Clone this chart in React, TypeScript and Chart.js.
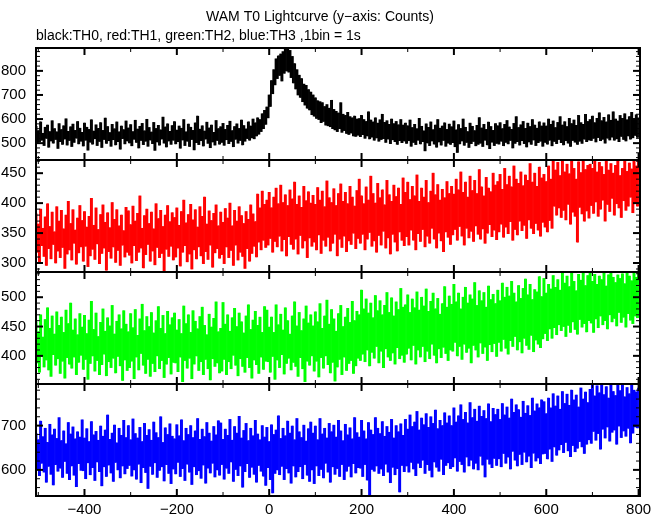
import React, { useEffect, useRef } from 'react';
import { Chart, registerables } from 'chart.js';

Chart.register(...registerables);

// time bins (seconds from T0), one value every BIN_STEP seconds
const START_TIME = -505;
const BIN_STEP = 2.5;

const TITLE = 'WAM T0 Lightcurve (y\u2212axis: Counts)';
const SUBTITLE = 'black:TH0, red:TH1, green:TH2, blue:TH3 ,1bin = 1s';

const th0Counts = [
  570, 498, 552, 505, 588, 512, 541, 490, 566, 520, 575, 483, 548, 509, 593, 500, 560, 515, 547, 478,
  581, 506, 556, 495, 572, 517, 601, 492, 549, 511, 568, 486, 579, 503, 553, 521, 590, 497, 562, 508,
  545, 488, 583, 512, 566, 471, 557, 504, 597, 496, 550, 518, 576, 490, 561, 507, 585, 482, 553, 515,
  604, 499, 569, 510, 544, 487, 578, 514, 559, 493, 588, 506, 547, 475, 571, 519, 556, 497, 592, 509,
  563, 501, 577, 489, 548, 516, 595, 503, 558, 480, 570, 511, 582, 494, 551, 508, 599, 487, 565, 513,
  546, 498, 586, 470, 561, 505, 574, 492, 555, 517, 608, 500, 567, 484, 580, 509, 549, 495, 573, 512,
  589, 497, 554, 506, 571, 479, 562, 513, 598, 490, 547, 508, 579, 486, 566, 515, 553, 472, 584, 502,
  612, 494, 558, 510, 572, 488, 550, 517, 587, 499, 563, 481, 575, 505, 545, 492, 594, 511, 560, 496,
  568, 503, 582, 491, 557, 514, 574, 498, 591, 507, 552, 485, 569, 516, 580, 500, 561, 511, 596, 493,
  573, 508, 559, 519, 588, 512, 571, 522, 600, 518, 584, 530, 605, 537, 598, 548, 622, 560, 636, 578,
  650, 605, 700, 652, 760, 705, 805, 742, 850, 768, 862, 781, 870, 758, 880, 790, 895, 800, 890, 795,
  885, 772, 860, 750, 830, 725, 805, 700, 782, 690, 768, 672, 745, 658, 740, 645, 722, 638, 712, 618,
  700, 612, 688, 603, 676, 598, 672, 585, 668, 590, 652, 575, 660, 572, 645, 568, 678, 560, 640, 555,
  632, 548, 625, 560, 668, 545, 620, 552, 615, 540, 628, 536, 610, 542, 605, 530, 612, 528, 600, 533,
  602, 527, 615, 535, 598, 520, 590, 530, 630, 518, 596, 525, 588, 512, 605, 522, 583, 508, 597, 515,
  620, 519, 586, 503, 593, 517, 578, 498, 600, 514, 581, 506, 590, 495, 576, 510, 598, 502, 575, 509,
  583, 499, 572, 510, 596, 487, 565, 503, 578, 494, 560, 512, 603, 497, 570, 506, 551, 468, 580, 501,
  566, 490, 588, 509, 556, 496, 575, 483, 598, 505, 562, 492, 571, 511, 584, 487, 557, 500, 579, 495,
  568, 502, 592, 485, 555, 461, 577, 497, 561, 509, 600, 491, 566, 503, 548, 482, 583, 498, 570, 507,
  552, 489, 574, 495, 606, 500, 563, 486, 578, 512, 557, 493, 587, 477, 569, 504, 553, 490, 581, 499,
  572, 496, 585, 508, 560, 489, 578, 503, 594, 497, 567, 511, 557, 480, 582, 499, 610, 506, 565, 492,
  576, 510, 590, 498, 561, 484, 583, 505, 569, 495, 598, 513, 575, 490, 562, 502, 588, 508, 571, 487,
  584, 503, 571, 496, 600, 512, 578, 489, 592, 507, 565, 498, 586, 515, 610, 502, 575, 493, 589, 510,
  569, 500, 603, 486, 581, 511, 596, 504, 574, 495, 615, 508, 585, 499, 578, 517, 620, 506, 590, 513,
  598, 511, 612, 520, 585, 505, 603, 523, 626, 510, 593, 516, 607, 500, 588, 521, 618, 513, 595, 525,
  630, 512, 600, 518, 592, 506, 615, 528, 603, 515, 622, 509, 597, 530, 610, 517, 628, 522, 600, 532,
  618, 524, 605,
];

const th1Counts = [
  382, 318, 365, 302, 390, 329, 358, 311, 377, 296, 399, 324, 361, 307, 385, 331, 352, 300, 394, 320,
  370, 309, 388, 326, 357, 291, 380, 315, 403, 322, 366, 305, 389, 333, 355, 298, 375, 317, 396, 327,
  371, 303, 386, 328, 360, 294, 378, 312, 408, 323, 363, 306, 392, 332, 356, 299, 381, 316, 397, 325,
  368, 288, 384, 319, 359, 308, 401, 327, 373, 301, 389, 321, 362, 296, 380, 330, 354, 310, 393, 318,
  387, 313, 364, 300, 395, 329, 370, 304, 383, 318, 412, 325, 358, 292, 379, 314, 390, 331, 366, 303,
  385, 320, 357, 297, 399, 326, 374, 309, 388, 316, 361, 287, 380, 323, 396, 311, 369, 328, 384, 305,
  376, 310, 392, 325, 363, 295, 386, 318, 405, 329, 367, 302, 381, 315, 398, 290, 372, 322, 389, 307,
  360, 327, 394, 312, 378, 299, 410, 319, 365, 306, 387, 330, 371, 293, 383, 317, 397, 324, 362, 308,
  385, 314, 368, 299, 391, 327, 375, 309, 400, 321, 362, 296, 388, 330, 370, 305, 394, 318, 379, 311,
  366, 291, 386, 324, 373, 303, 397, 316, 382, 328, 369, 310, 415, 335, 392, 322, 420, 338, 398, 326,
  405, 330, 418, 341, 392, 318, 410, 336, 425, 327, 399, 345, 430, 320, 401, 339, 414, 312, 396, 344,
  422, 331, 407, 323, 435, 340, 398, 315, 412, 346, 393, 325, 428, 337, 404, 309, 419, 342, 400, 328,
  413, 335, 398, 322, 426, 347, 405, 316, 420, 338, 394, 328, 437, 343, 409, 320, 401, 333, 424, 348,
  396, 312, 416, 340, 432, 326, 403, 345, 418, 319, 399, 337, 428, 331, 410, 350, 395, 324, 421, 341,
  440, 333, 412, 348, 399, 322, 427, 340, 405, 351, 445, 328, 416, 337, 400, 318, 433, 346, 409, 330,
  422, 353, 397, 325, 438, 342, 414, 315, 403, 348, 430, 335, 411, 320, 425, 352, 398, 338, 442, 329,
  418, 344, 435, 330, 406, 355, 428, 338, 412, 322, 447, 349, 403, 336, 425, 356, 410, 327, 438, 345,
  401, 333, 420, 358, 450, 340, 414, 325, 431, 350, 405, 337, 423, 319, 409, 352, 436, 343, 416, 331,
  428, 347, 415, 356, 440, 338, 422, 361, 452, 345, 418, 330, 435, 358, 410, 342, 445, 353, 421, 336,
  438, 362, 416, 348, 456, 340, 427, 357, 412, 333, 443, 350, 425, 364, 419, 344, 450, 355, 430, 339,
  436, 352, 448, 365, 423, 343, 458, 360, 431, 349, 445, 369, 427, 338, 462, 356, 440, 347, 433, 370,
  452, 354, 429, 363, 447, 341, 438, 372, 466, 358, 435, 349, 450, 366, 428, 355, 460, 345, 442, 368,
  448, 360, 436, 352, 462, 371, 440, 358, 472, 395, 455, 380, 468, 392, 446, 376, 470, 388, 452, 372,
  465, 398, 449, 365, 472, 385, 458, 378, 440, 335, 469, 393, 451, 382, 472, 370, 456, 387, 463, 375,
  465, 396, 458, 383, 472, 402, 452, 378, 468, 390, 461, 405, 448, 370, 472, 398, 455, 386, 466, 408,
  450, 380, 463, 399, 470, 392, 446, 376, 458, 404, 472, 388, 453, 395, 467, 410, 457, 384, 472, 400,
  462, 395, 470,
];

const th2Counts = [
  458, 388, 441, 372, 470, 399, 432, 381, 462, 393, 482, 376, 447, 365, 468, 402, 437, 384, 475, 395,
  452, 370, 466, 391, 440, 362, 478, 397, 455, 386, 490, 379, 444, 398, 463, 368, 436, 389, 472, 401,
  449, 377, 469, 394, 438, 360, 461, 387, 493, 400, 445, 374, 473, 392, 433, 368, 457, 385, 480, 403,
  442, 366, 465, 390, 451, 380, 486, 396, 437, 371, 459, 399, 470, 383, 446, 358, 477, 393, 454, 375,
  441, 380, 472, 391, 448, 361, 479, 398, 435, 376, 463, 404, 488, 384, 443, 370, 467, 394, 450, 365,
  474, 387, 439, 373, 460, 400, 484, 378, 447, 392, 469, 363, 438, 386, 476, 397, 453, 369, 465, 389,
  473, 388, 444, 373, 462, 398, 438, 356, 485, 392, 455, 379, 470, 396, 440, 361, 477, 386, 459, 400,
  446, 375, 467, 390, 483, 368, 452, 394, 436, 378, 471, 359, 449, 395, 464, 382, 492, 388, 441, 371,
  447, 374, 491, 394, 454, 368, 470, 390, 442, 378, 465, 401, 481, 384, 450, 366, 473, 395, 458, 382,
  439, 372, 468, 397, 487, 380, 445, 362, 461, 393, 476, 385, 452, 370, 466, 398, 440, 377, 484, 391,
  478, 390, 449, 372, 466, 399, 440, 360, 487, 393, 453, 380, 471, 402, 444, 369, 482, 387, 460, 396,
  437, 376, 468, 389, 492, 382, 451, 365, 474, 397, 443, 378, 463, 356, 485, 391, 456, 384, 470, 400,
  451, 374, 475, 391, 458, 364, 489, 397, 447, 379, 468, 400, 495, 385, 454, 371, 479, 389, 463, 357,
  442, 381, 472, 394, 486, 368, 450, 398, 466, 375, 481, 387, 457, 392, 493, 370, 460, 383, 476, 396,
  470, 392, 512, 403, 480, 390, 497, 410, 473, 383, 490, 406, 465, 396, 503, 416, 477, 388, 494, 408,
  470, 380, 486, 412, 508, 398, 474, 392, 499, 405, 468, 386, 492, 414, 479, 395, 515, 401, 483, 389,
  487, 403, 504, 413, 474, 393, 497, 418, 482, 386, 509, 410, 478, 398, 500, 416, 485, 390, 514, 408,
  476, 395, 493, 420, 507, 401, 480, 388, 498, 412, 471, 397, 489, 415, 518, 404, 483, 392, 502, 410,
  488, 408, 522, 423, 492, 400, 507, 416, 480, 394, 500, 420, 517, 406, 490, 413, 504, 388, 497, 418,
  525, 410, 486, 398, 511, 422, 494, 404, 508, 415, 483, 392, 519, 419, 496, 407, 505, 421, 489, 399,
  512, 423, 494, 408, 524, 428, 500, 413, 517, 403, 502, 426, 527, 416, 507, 433, 492, 410, 520, 424,
  498, 405, 515, 430, 531, 418, 504, 411, 522, 435, 496, 407, 513, 427, 509, 420, 535, 414, 501, 429,
  532, 438, 507, 426, 522, 446, 514, 430, 537, 448, 517, 436, 530, 453, 512, 443, 541, 450, 524, 433,
  536, 452, 518, 440, 543, 458, 527, 445, 511, 437, 539, 462, 529, 449, 543, 455, 520, 441, 537, 460,
  543, 456, 527, 440, 539, 463, 522, 448, 536, 468, 530, 453, 541, 460, 519, 446, 538, 470, 543, 458,
  534, 464, 525, 451, 538, 474, 532, 457, 540, 466, 523, 449, 543, 472, 536, 461, 528, 455, 543, 468,
  534, 465, 541,
];

const th3Counts = [
  682, 601, 668, 587, 710, 615, 675, 595, 694, 572, 662, 608, 703, 590, 679, 566, 692, 612, 671, 597,
  718, 604, 666, 583, 688, 619, 659, 592, 707, 578, 681, 609, 697, 588, 670, 562, 686, 614, 674, 599,
  713, 598, 672, 580, 693, 616, 664, 589, 709, 605, 679, 576, 687, 618, 667, 596, 699, 564, 676, 607,
  690, 585, 724, 611, 669, 593, 683, 574, 701, 617, 661, 600, 694, 582, 678, 609, 712, 591, 673, 603,
  700, 610, 668, 586, 715, 600, 682, 579, 672, 613, 696, 571, 664, 605, 705, 594, 678, 558, 691, 608,
  667, 590, 708, 616, 684, 583, 673, 599, 720, 607, 662, 575, 695, 612, 680, 592, 704, 569, 676, 602,
  670, 591, 702, 617, 677, 585, 713, 603, 666, 576, 694, 613, 680, 595, 700, 567, 673, 607, 688, 589,
  716, 598, 669, 581, 692, 611, 675, 570, 707, 604, 683, 593, 665, 615, 698, 584, 679, 600, 711, 588,
  706, 612, 669, 579, 692, 604, 678, 592, 714, 618, 667, 574, 698, 601, 683, 587, 721, 609, 672, 561,
  689, 596, 705, 614, 666, 583, 694, 606, 677, 590, 712, 572, 681, 610, 668, 597, 700, 586, 674, 565,
  696, 605, 664, 578, 702, 548, 680, 592, 690, 600, 722, 589, 671, 608, 694, 578, 677, 603, 710, 593,
  683, 570, 699, 609, 668, 584, 716, 596, 686, 607, 673, 580, 701, 612, 665, 588, 693, 574, 708, 600,
  683, 569, 699, 609, 668, 587, 716, 601, 681, 582, 694, 615, 672, 595, 705, 572, 686, 607, 701, 590,
  674, 603, 712, 585, 688, 612, 666, 578, 703, 597, 679, 608, 695, 584, 670, 614, 718, 593, 684, 605,
  674, 604, 712, 585, 688, 612, 670, 577, 707, 544, 690, 601, 680, 597, 718, 609, 694, 592, 682, 602,
  709, 587, 676, 613, 698, 595, 685, 571, 714, 606, 672, 589, 700, 603, 686, 550, 704, 610, 678, 596,
  714, 609, 692, 595, 724, 617, 698, 602, 708, 587, 732, 615, 690, 605, 717, 622, 702, 592, 727, 612,
  696, 599, 720, 584, 705, 618, 735, 606, 693, 597, 712, 624, 700, 589, 729, 610, 706, 616, 722, 603,
  700, 607, 740, 627, 708, 597, 722, 619, 747, 612, 714, 595, 730, 629, 706, 609, 752, 622, 718, 602,
  737, 615, 710, 600, 744, 631, 721, 611, 734, 584, 716, 624, 749, 613, 709, 605, 739, 626, 725, 610,
  737, 625, 714, 607, 750, 637, 724, 615, 742, 629, 717, 602, 760, 642, 730, 622, 747, 609, 736, 635,
  719, 612, 755, 640, 728, 618, 745, 631, 723, 605, 762, 638, 733, 620, 749, 627, 740, 614, 758, 636,
  754, 637, 727, 625, 762, 647, 740, 619, 772, 652, 744, 633, 767, 645, 737, 657, 777, 639, 750, 662,
  771, 643, 746, 630, 780, 655, 758, 641, 769, 649, 742, 664, 785, 652, 760, 637, 776, 658, 752, 668,
  782, 660, 794, 687, 767, 667, 790, 682, 774, 647, 794, 692, 770, 672, 788, 697, 762, 665, 794, 685,
  777, 690, 768, 658, 791, 699, 779, 673, 794, 688, 765, 676, 786, 694, 772, 661, 794, 683, 780, 697,
  776, 695, 785,
];

// axis ranges and tick labels
const X_MIN = -505;
const X_MAX = 803;
const X_LABEL_TICKS = [-400, -200, 0, 200, 400, 600, 800];
const X_MINOR_TICKS = [-500, -300, -100, 100, 300, 500, 700];

const th0Range = [430, 895];
const th1Range = [285, 472];
const th2Range = [352, 543];
const th3Range = [541, 794];

const th0Ticks = [500, 600, 700, 800];
const th1Ticks = [300, 350, 400, 450];
const th2Ticks = [400, 450, 500];
const th3Ticks = [600, 700];

const th0Minor = 20;
const th1Minor = 10;
const th2Minor = 10;
const th3Minor = 20;

const PANELS = [
  { name: 'TH0', color: '#000000', values: th0Counts, range: th0Range, ticks: th0Ticks, minor: th0Minor },
  { name: 'TH1', color: '#ff0000', values: th1Counts, range: th1Range, ticks: th1Ticks, minor: th1Minor },
  { name: 'TH2', color: '#00ff00', values: th2Counts, range: th2Range, ticks: th2Ticks, minor: th2Minor },
  { name: 'TH3', color: '#0000ff', values: th3Counts, range: th3Range, ticks: th3Ticks, minor: th3Minor },
];

const FONT_FAMILY = "'Liberation Sans', Arial, Helvetica, sans-serif";

const fmt = (v: number) => (v < 0 ? '\u2212' + Math.abs(v) : String(v));

const panelFrame = {
  id: 'panelFrame',
  afterDatasetsDraw(chart: any) {
    const { ctx, chartArea, scales } = chart;
    const xs = scales.x;
    const left = chartArea.left;
    const right = chartArea.right;
    ctx.save();
    ctx.strokeStyle = '#000000';
    const seg = (x1: number, y1: number, x2: number, y2: number, w: number) => {
      ctx.lineWidth = w;
      ctx.beginPath();
      ctx.moveTo(x1, y1);
      ctx.lineTo(x2, y2);
      ctx.stroke();
    };
    PANELS.forEach((p, k) => {
      const ys = scales['y' + k];
      const top = ys.top;
      const bottom = ys.bottom;
      X_LABEL_TICKS.forEach((v) => {
        const px = xs.getPixelForValue(v);
        seg(px, top, px, top + 7, 2);
        seg(px, bottom, px, bottom - 7, 2);
      });
      X_MINOR_TICKS.forEach((v) => {
        const px = xs.getPixelForValue(v);
        if (px < left + 1 || px > right - 1) return;
        seg(px, top, px, top + 4, 1);
        seg(px, bottom, px, bottom - 4, 1);
      });
      const [mn, mx] = p.range;
      for (let v = Math.ceil(mn / p.minor) * p.minor; v <= mx; v += p.minor) {
        const py = ys.getPixelForValue(v);
        const major = p.ticks.includes(v);
        const len = major ? 7 : 4;
        const w = major ? 2 : 1;
        seg(left, py, left + len, py, w);
        seg(right, py, right - len, py, w);
      }
      ctx.lineWidth = 2;
      ctx.strokeRect(left, top, right - left, bottom - top);
    });
    ctx.restore();
  },
};

export default function App() {
  const canvasRef = useRef<HTMLCanvasElement | null>(null);

  useEffect(() => {
    if (!canvasRef.current) return;
    Chart.defaults.font.family = FONT_FAMILY;
    Chart.defaults.color = '#000000';

    const scales: any = {
      x: {
        type: 'linear',
        min: X_MIN,
        max: X_MAX,
        offset: false,
        afterBuildTicks: (s: any) => {
          s.ticks = X_LABEL_TICKS.map((v) => ({ value: v }));
        },
        afterFit: (s: any) => {
          s.height = 19;
        },
        grid: { display: false, drawTicks: false },
        border: { display: false },
        ticks: {
          autoSkip: false,
          maxRotation: 0,
          padding: 5,
          color: '#000000',
          font: { size: 15, family: FONT_FAMILY },
          callback: (v: any) => fmt(Number(v)),
        },
      },
    };

    PANELS.forEach((p, k) => {
      scales['y' + k] = {
        type: 'linear',
        position: 'left',
        stack: 'panels',
        stackWeight: 1,
        weight: PANELS.length - k,
        min: p.range[0],
        max: p.range[1],
        afterBuildTicks: (s: any) => {
          s.ticks = p.ticks.map((v) => ({ value: v }));
        },
        afterFit: (s: any) => {
          s.width = 36;
        },
        grid: { display: false, drawTicks: false },
        border: { display: false },
        ticks: {
          autoSkip: false,
          padding: 10,
          color: '#000000',
          font: { size: 15, family: FONT_FAMILY },
          callback: (v: any) => fmt(Number(v)),
        },
      };
    });

    // each bin is drawn as the vertical extent swept between consecutive samples
    const chart = new Chart(canvasRef.current, {
      type: 'bar',
      data: {
        datasets: PANELS.map((p, k) => ({
          label: p.name,
          yAxisID: 'y' + k,
          xAxisID: 'x',
          data: p.values.slice(0, -1).map((v, i) => ({
            x: START_TIME + (i + 0.5) * BIN_STEP,
            y: [v, p.values[i + 1]],
          })),
          backgroundColor: p.color,
          borderWidth: 0,
          barPercentage: 1,
          categoryPercentage: 1,
          grouped: false,
        })),
      },
      options: {
        animation: false,
        responsive: false,
        maintainAspectRatio: false,
        layout: { padding: { left: 0, right: 25, top: 0, bottom: 0 } },
        scales,
        plugins: {
          legend: { display: false },
          tooltip: { enabled: false },
          title: {
            display: true,
            text: TITLE,
            color: '#000000',
            align: 'center',
            font: { size: 14, weight: 'normal', family: FONT_FAMILY, lineHeight: 1.2 },
            padding: { top: 9, bottom: 2 },
          },
          subtitle: {
            display: true,
            text: SUBTITLE,
            color: '#000000',
            align: 'start',
            fullSize: false,
            font: { size: 14, weight: 'normal', family: FONT_FAMILY, lineHeight: 1.2 },
            padding: { top: 0, bottom: 3.4 },
          },
        },
      } as any,
      plugins: [panelFrame],
    });

    return () => chart.destroy();
  }, []);

  return (
    <div style={{ position: 'absolute', left: 0, top: 0, width: 665, height: 515, background: '#ffffff' }}>
      <canvas ref={canvasRef} width={665} height={515} style={{ width: 665, height: 515, display: 'block' }} />
    </div>
  );
}
